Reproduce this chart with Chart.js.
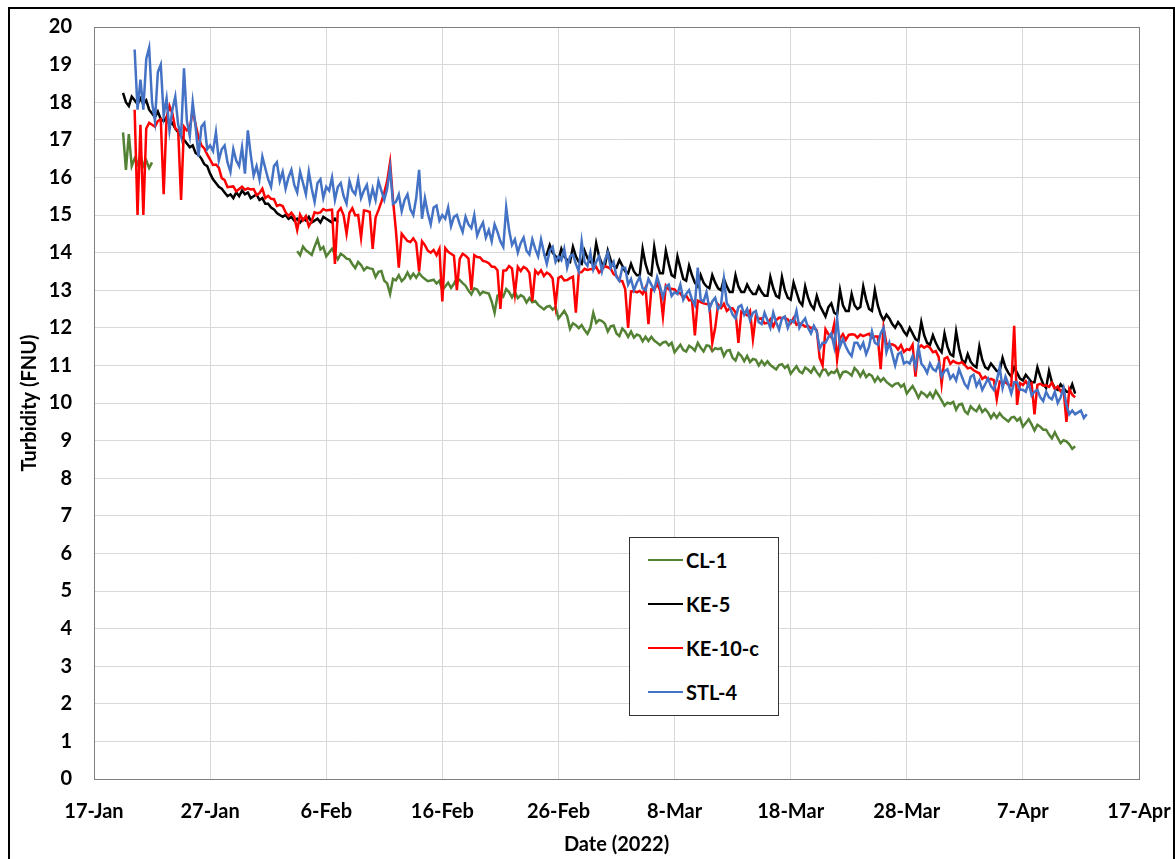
<!DOCTYPE html>
<html>
<head>
<meta charset="utf-8">
<script src="https://cdn.jsdelivr.net/npm/chart.js@4.4.1/dist/chart.umd.min.js"></script>
<style>
  body { margin: 0; background: #fff; }
  #marco { position: absolute; left: 8px; top: 7px; width: 1167px; height: 870px; border: 2px solid #000; box-sizing: border-box; }
  #grafico { position: absolute; left: 0; top: 0; }
  #leyenda { position: absolute; left: 629px; top: 537px; width: 150px; height: 179px; border: 1px solid #333; background: #fff; box-sizing: border-box; font-family: Lato, sans-serif; font-weight: bold; font-size: 20px; padding-top: 0; }
  .item { height: 44px; display: flex; align-items: center; }
  .linea { display: inline-block; width: 35px; height: 2px; margin-left: 18px; margin-right: 3px; }
</style>
</head>
<body>
<div id="marco"></div>
<canvas id="grafico" width="1175" height="859"></canvas>
<div id="leyenda"></div>
<script>
// days counted from 17-Jan-2022, one reading every 6 hours
const paso = 0.25;
const tickLabels = ['17-Jan', '27-Jan', '6-Feb', '16-Feb', '26-Feb', '8-Mar', '18-Mar', '28-Mar', '7-Apr', '17-Apr'];
const nombres = ['CL-1', 'KE-5', 'KE-10-c', 'STL-4'];
const colores = ['#548235', '#000000', '#ff0000', '#4472c4'];

// CL-1
const cl1Inicio1 = 2.5;
const cl1Valores1 = [17.2, 16.2, 17.15, 16.3, 16.5, 16.35, 16.6, 16.3, 16.45, 16.25, 16.4];
const cl1Inicio2 = 17.5;
const cl1Valores2 = [14.04, 13.93,
  14.16, 14.06, 14.0, 13.94, 14.16, 14.35, 14.08, 14.15, 13.9, 14.0, 14.1, 13.96, 13.82, 13.97, 13.92, 13.84,
  13.82, 13.69, 13.59, 13.75, 13.67, 13.53, 13.61, 13.58, 13.56, 13.35, 13.49, 13.51, 13.25, 13.18, 12.9, 13.3,
  13.26, 13.4, 13.24, 13.32, 13.47, 13.32, 13.44, 13.33, 13.46, 13.36, 13.3, 13.24, 13.26, 13.28, 13.18, 13.25,
  13.0, 13.1, 13.2, 13.06, 13.17, 13.32, 13.27, 13.19, 13.12, 12.99, 12.89, 13.05, 13.02, 12.88, 12.96, 12.93,
  12.91, 12.7, 12.4, 12.86, 12.9, 12.83, 13.03, 12.95, 12.81, 12.95, 12.79, 12.87, 12.82, 12.67, 12.79, 12.68,
  12.71, 12.61, 12.55, 12.49, 12.56, 12.58, 12.48, 12.55, 12.25, 12.35, 12.45, 12.31, 11.97, 12.12, 12.07, 11.99,
  12.07, 11.94, 11.84, 12.0, 12.4, 12.13, 12.21, 12.18, 12.11, 11.9, 12.04, 12.06, 11.85, 11.78, 11.98, 11.9,
  11.76, 11.9, 11.74, 11.82, 11.79, 11.64, 11.76, 11.65, 11.76, 11.66, 11.6, 11.54, 11.61, 11.63, 11.53, 11.6,
  11.35, 11.45, 11.55, 11.41, 11.37, 11.52, 11.47, 11.39, 11.6, 11.47, 11.37, 11.53, 11.52, 11.38, 11.46, 11.43,
  11.46, 11.25, 11.39, 11.41, 11.2, 11.13, 11.33, 11.25, 11.11, 11.25, 11.09, 11.17, 11.15, 11.0, 11.12, 11.01,
  11.11, 11.01, 10.95, 10.89, 11.01, 11.03, 10.93, 11.0, 10.78, 10.88, 10.98, 10.84, 10.79, 10.94, 10.89, 10.81,
  10.95, 10.82, 10.72, 10.88, 10.89, 10.75, 10.83, 10.8, 10.89, 10.68, 10.82, 10.84, 10.8, 10.73, 10.93, 10.85,
  10.71, 10.85, 10.69, 10.77, 10.72, 10.57, 10.69, 10.58, 10.66, 10.56, 10.5, 10.44, 10.51, 10.53, 10.43, 10.5,
  10.25, 10.35, 10.45, 10.31, 10.14, 10.29, 10.24, 10.16, 10.27, 10.14, 10.32, 10.2, 10.07, 9.93, 10.01, 9.98,
  10.03, 9.82, 9.96, 9.98, 9.78, 9.71, 9.91, 9.83, 9.78, 9.92, 9.76, 9.84, 9.75, 9.6, 9.72, 9.61,
  9.73, 9.63, 9.57, 9.51, 9.61, 9.63, 9.53, 9.6, 9.37, 9.47, 9.57, 9.43, 9.27, 9.42, 9.37, 9.29,
  9.29, 9.16, 9.06, 9.22, 9.07, 8.93, 9.01, 8.98, 8.9, 8.78, 8.85];

// KE-5
const ke5Inicio1 = 2.5;
const ke5Valores1 = [18.25, 18.0,
  17.9, 18.15, 18.05, 17.95, 18.1, 17.95, 18.05, 17.8, 17.7, 17.6, 17.75, 17.55, 17.5, 17.6, 17.4, 17.45,
  17.3, 17.2, 17.1, 17.0, 16.9, 16.8, 16.85, 16.65, 16.6, 16.5, 16.35, 16.3, 16.1, 15.95, 15.85, 15.75,
  15.7, 15.6, 15.5, 15.55, 15.45, 15.6, 15.5, 15.65, 15.55, 15.6, 15.45, 15.5, 15.55, 15.4, 15.45, 15.3,
  15.3, 15.2, 15.15, 15.05, 15.0, 14.95, 15.0, 14.9, 14.95, 14.85, 14.9, 14.8, 14.9, 14.85, 14.95, 14.8,
  14.85, 14.9, 14.8, 14.95, 14.9, 14.85, 14.8, 14.9, 14.8];
const ke5Inicio2 = 38.75;
const ke5Valores2 = [13.9,
  13.95, 14.2, 14.0, 13.9, 13.8, 14.1, 13.9, 13.8, 13.75, 14.15, 13.9, 13.75, 13.7, 14.05, 13.85, 13.75,
  13.7, 14.25, 13.9, 13.7, 13.65, 14.05, 13.8, 13.65, 13.6, 13.8, 13.65, 13.5, 13.45, 13.7, 13.5, 13.4,
  13.4, 14.1, 13.7, 13.45, 13.4, 14.15, 13.7, 13.45, 13.45, 14.05, 13.7, 13.4, 13.35, 13.9, 13.6, 13.3,
  13.25, 13.65, 13.4, 13.2, 13.1, 13.4, 13.2, 13.1, 13.05, 13.4, 13.2, 13.05, 13.0, 13.3, 13.1, 12.95,
  12.95, 13.4, 13.1, 12.95, 12.95, 13.15, 13.0, 12.9, 12.9, 13.1, 12.95, 12.85, 12.85, 13.35, 13.05, 12.85,
  12.8, 13.35, 13.0, 12.8, 12.75, 13.2, 12.95, 12.7, 12.6, 13.1, 12.8, 12.6, 12.5, 12.85, 12.6, 12.45,
  12.3, 12.55, 12.65, 12.4, 12.35, 13.0, 12.6, 12.45, 12.45, 12.9, 12.6, 12.5, 12.55, 13.1, 12.75, 12.5,
  12.45, 13.0, 12.6, 12.35, 12.2, 12.35, 12.25, 12.1, 12.0, 12.15, 12.05, 11.9, 11.8, 12.0, 11.85, 11.7,
  11.65, 12.15, 11.8, 11.6, 11.55, 11.8, 11.6, 11.45, 11.35, 11.85, 11.5, 11.3, 11.25, 11.9, 11.45, 11.15,
  11.05, 11.3, 11.1, 11.0, 10.95, 11.5, 11.15, 10.95, 10.9, 11.05, 10.95, 10.85, 10.85, 11.2, 10.95, 10.8,
  10.7, 10.95, 10.8, 10.65, 10.6, 10.75, 10.65, 10.55, 10.55, 10.95, 10.7, 10.5, 10.4, 10.85, 10.55, 10.4,
  10.35, 10.5, 10.4, 10.3, 10.3, 10.5, 10.25];

// KE-10-c
const ke10Inicio = 3.5;
const ke10Valores = [17.8, 15.0,
  17.4, 15.0, 17.3, 17.45, 17.4, 17.35, 17.5, 17.55, 15.55, 17.6, 17.9, 17.7, 17.3, 17.25, 15.4, 17.35,
  17.25, 17.3, 17.8, 17.4, 17.07, 16.85, 16.77, 16.61, 16.47, 16.33, 16.34, 16.26, 15.98, 15.93, 15.74, 15.75,
  15.76, 15.63, 15.69, 15.75, 15.67, 15.71, 15.68, 15.69, 15.53, 15.58, 15.7, 15.45, 15.51, 15.43, 15.42, 15.24,
  15.27, 15.24, 15.07, 14.97, 15.06, 14.95, 14.6, 15.01, 14.86, 14.97, 14.7, 14.84, 15.07, 15.05, 15.07, 15.16,
  15.12, 15.13, 15.14, 13.7, 15.08, 15.18, 14.99, 14.5, 15.06, 15.18, 14.99, 15.0, 14.4, 15.12, 15.11, 15.08,
  14.1, 14.93, 15.13, 15.35, 15.6, 15.9, 16.4, 15.4, 14.6, 13.6, 14.5, 14.4, 14.31, 14.28, 14.38, 14.26,
  13.5, 14.3, 14.2, 14.05, 14.0, 14.07, 13.93, 14.1, 12.7, 14.12, 14.02, 13.97, 13.92, 13.0, 13.83, 13.97,
  13.92, 13.84, 13.0, 13.93, 13.88, 13.87, 13.78, 13.76, 13.72, 13.63, 13.62, 13.53, 12.5, 13.52, 13.53, 13.64,
  13.58, 12.9, 13.62, 13.51, 13.62, 13.57, 13.46, 12.7, 13.52, 13.43, 13.53, 13.38, 13.47, 13.42, 13.31, 12.6,
  13.33, 13.37, 13.26, 13.27, 13.32, 13.36, 12.4, 13.47, 13.48, 13.57, 13.54, 13.56, 13.57, 13.62, 13.47, 13.55,
  13.64, 13.61, 13.57, 13.43, 13.38, 13.25, 13.24, 13.03, 12.0, 12.97, 12.98, 12.94, 12.98, 12.9, 13.07, 12.1,
  13.02, 13.01, 13.17, 13.0, 12.3, 13.12, 13.02, 13.04, 13.02, 12.93, 12.92, 12.8, 12.86, 12.73, 12.74, 11.8,
  12.72, 12.68, 12.65, 12.63, 12.63, 11.6, 12.0, 12.62, 12.53, 12.64, 12.45, 12.52, 12.52, 12.41, 11.6, 12.43,
  12.38, 12.33, 12.45, 11.7, 12.32, 12.24, 12.25, 12.12, 12.13, 12.23, 12.04, 12.2, 12.27, 12.26, 12.26, 12.22,
  12.12, 12.26, 12.08, 12.12, 12.09, 12.03, 12.05, 11.99, 12.02, 11.93, 11.2, 11.0, 11.96, 11.83, 11.75, 12.1,
  11.15, 11.72, 11.83, 11.68, 11.81, 11.83, 11.82, 11.74, 11.82, 11.78, 11.81, 11.84, 11.73, 11.77, 11.77, 10.9,
  12.0, 11.57, 11.55, 11.56, 11.52, 11.42, 11.54, 11.36, 11.43, 11.41, 11.55, 10.7, 11.46, 11.53, 11.47, 11.52,
  11.47, 11.35, 11.38, 11.22, 10.5, 11.18, 11.22, 11.04, 11.12, 11.07, 11.05, 11.09, 11.01, 10.92, 10.94, 10.87,
  10.83, 10.79, 10.64, 10.7, 10.62, 10.64, 10.61, 10.1, 10.57, 10.53, 10.55, 10.49, 10.46, 12.05, 9.95, 10.53,
  10.48, 10.58, 10.45, 10.52, 9.7, 10.48, 10.51, 10.46, 10.47, 10.43, 10.54, 10.37, 10.44, 10.31, 10.38, 9.5,
  10.37, 10.22, 10.15];

// STL-4
const stlInicio = 3.5;
const stlValores = [19.4, 17.8,
  18.6, 17.8, 19.15, 19.45, 18.0, 17.5, 18.8, 19.0, 17.65, 18.1, 17.25, 17.8, 18.15, 17.4, 17.1, 18.9,
  17.5, 17.1, 18.0, 17.35, 16.55, 17.35, 17.45, 16.75, 16.85, 16.7, 17.2, 16.45, 16.75, 16.85, 16.4, 16.15,
  16.75, 16.45, 16.3, 16.8, 16.1, 17.25, 16.6, 16.05, 16.3, 15.95, 16.55, 16.25, 15.95, 15.75, 16.3, 16.4,
  15.9, 16.15, 15.7, 16.0, 16.2, 15.8, 15.6, 16.15, 15.85, 15.55, 16.15, 15.7, 15.35, 15.85, 15.95, 15.45,
  15.75, 15.65, 16.0, 15.4, 15.75, 15.85, 15.5, 15.3, 15.9, 15.65, 15.55, 15.95, 15.45, 15.65, 15.8, 15.35,
  15.7, 15.4, 15.9, 15.65, 15.4, 15.7, 16.25, 15.3, 15.35, 15.55, 15.1, 15.4, 15.55, 15.15, 15.0, 15.45,
  16.2, 14.9, 15.45, 15.05, 14.75, 15.2, 15.25, 14.85, 15.0, 14.9, 15.2, 14.7, 14.95, 15.0, 14.75, 14.55,
  14.95, 14.75, 14.65, 15.0, 14.45, 14.65, 14.8, 14.4, 14.6, 14.3, 14.75, 14.55, 14.3, 14.15, 15.2, 14.6,
  14.2, 14.35, 14.0, 14.25, 14.4, 14.05, 13.95, 14.35, 14.1, 13.9, 14.35, 14.0, 13.7, 14.05, 14.15, 13.75,
  13.9, 13.8, 14.1, 13.6, 13.9, 13.95, 13.7, 13.5, 14.3, 13.75, 13.65, 14.0, 13.55, 13.75, 13.9, 13.5,
  13.8, 14.0, 13.6, 13.75, 13.35, 13.25, 13.6, 13.6, 13.15, 13.3, 13.0, 13.2, 13.35, 13.05, 13.0, 13.3,
  13.15, 13.0, 13.35, 13.1, 12.8, 13.1, 13.15, 12.85, 12.95, 12.9, 13.15, 12.75, 12.9, 13.0, 12.75, 12.6,
  13.6, 12.75, 12.7, 12.95, 12.5, 12.7, 12.8, 12.5, 12.6, 13.3, 12.65, 12.55, 12.35, 12.25, 12.55, 12.6,
  12.35, 12.5, 12.2, 12.4, 12.45, 12.15, 12.1, 12.4, 12.2, 12.0, 12.4, 12.15, 11.95, 12.25, 12.3, 12.0,
  12.2, 12.15, 12.45, 12.0, 12.15, 12.25, 12.0, 11.85, 12.05, 11.9, 11.45, 11.6, 11.6, 11.75, 11.85, 11.5,
  12.25, 11.5, 11.7, 11.5, 11.35, 11.25, 11.6, 11.6, 11.45, 11.6, 11.3, 11.5, 11.9, 11.6, 11.55, 11.85,
  12.0, 11.35, 11.6, 11.3, 11.0, 11.3, 11.35, 11.05, 11.1, 11.05, 11.25, 10.95, 11.5, 11.05, 10.95, 10.8,
  11.05, 10.9, 10.85, 11.05, 10.7, 10.85, 10.9, 10.65, 10.75, 10.6, 10.9, 10.7, 10.5, 10.4, 10.7, 10.75,
  10.45, 10.6, 10.35, 10.5, 10.65, 10.45, 10.35, 10.6, 10.95, 10.4, 10.7, 10.5, 10.25, 10.55, 10.55, 10.35,
  10.35, 10.3, 10.55, 10.2, 10.3, 10.35, 10.15, 10.05, 10.3, 10.15, 10.1, 10.3, 10.0, 10.15, 10.4, 9.95,
  9.7, 9.8, 9.7, 9.75, 9.8, 9.6, 9.7];

function serie(inicio, valores) {
    return valores.map((v, i) => ({ x: inicio + i * paso, y: v }));
}

// a null point between two runs breaks the line
function dosTramos(inicio1, valores1, inicio2, valores2) {
    return serie(inicio1, valores1).concat([{ x: (inicio1 + valores1.length * paso + inicio2) / 2, y: null }], serie(inicio2, valores2));
}

const datos = [
    dosTramos(cl1Inicio1, cl1Valores1, cl1Inicio2, cl1Valores2),
    dosTramos(ke5Inicio1, ke5Valores1, ke5Inicio2, ke5Valores2),
    serie(ke10Inicio, ke10Valores),
    serie(stlInicio, stlValores)
];

const marcoArea = {
    id: 'marcoArea',
    afterDatasetsDraw(chart) {
        const a = chart.chartArea;
        const c = chart.ctx;
        c.save();
        c.strokeStyle = '#7f7f7f';
        c.lineWidth = 1;
        c.strokeRect(Math.round(a.left) + 0.5, Math.round(a.top) + 0.5, Math.round(a.right - a.left), Math.round(a.bottom - a.top));
        c.restore();
    }
};

Chart.defaults.font.family = 'Lato, sans-serif';
Chart.defaults.font.weight = 'bold';
Chart.defaults.font.size = 20;
Chart.defaults.color = '#000';

const ctx = document.getElementById('grafico');

const grafico = new Chart(ctx, {
    type: 'line',
    data: {
        datasets: nombres.map((n, i) => ({
            label: n,
            data: datos[i],
            borderColor: colores[i],
            backgroundColor: colores[i],
            borderWidth: 2.5,
            pointRadius: 0,
            tension: 0,
            spanGaps: false,
            order: 4 - i
        }))
    },
    options: {
        responsive: false,
        animation: false,
        events: [],
        layout: { padding: { left: 18, top: 27, right: 36, bottom: 0 } },
        plugins: { legend: { display: false }, tooltip: { enabled: false } },
        scales: {
            x: {
                type: 'linear',
                min: 0,
                max: 90,
                afterFit: (s) => { s.height = 80; s.paddingLeft = 0; s.paddingRight = 0; },
                ticks: {
                    stepSize: 10,
                    padding: 21,
                    maxRotation: 0,
                    callback: (v) => tickLabels[Math.round(v / 10)]
                },
                grid: { color: '#d9d9d9', drawTicks: false },
                border: { display: false },
                title: { display: true, text: 'Date (2022)', padding: { top: 0, bottom: 2 } }
            },
            y: {
                min: 0,
                max: 20,
                afterFit: (s) => { s.width = 76; s.paddingTop = 0; s.paddingBottom = 0; },
                ticks: { stepSize: 1, padding: 22 },
                grid: { color: '#d9d9d9', drawTicks: false },
                border: { display: false },
                title: { display: true, text: 'Turbidity (FNU)', padding: { top: 0, bottom: 0 } }
            }
        }
    },
    plugins: [marcoArea]
});

// legend box placed inside the plot, as in the original
const leyenda = document.getElementById('leyenda');
grafico.data.datasets.forEach(function (d) {
    const fila = document.createElement('div');
    fila.className = 'item';
    const linea = document.createElement('span');
    linea.className = 'linea';
    linea.style.background = d.borderColor;
    fila.appendChild(linea);
    fila.appendChild(document.createTextNode(d.label));
    leyenda.appendChild(fila);
});
</script>
</body>
</html>
